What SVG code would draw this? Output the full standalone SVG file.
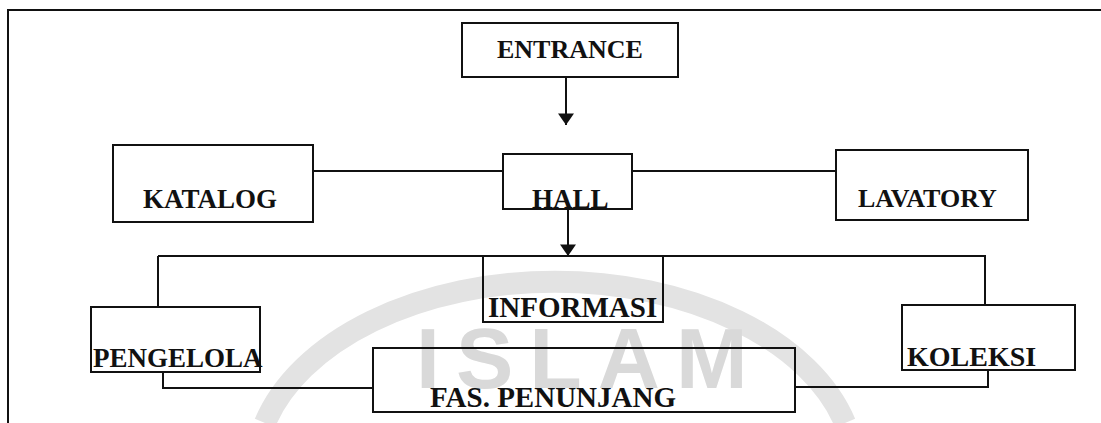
<svg xmlns="http://www.w3.org/2000/svg" width="1101" height="423" viewBox="0 0 1101 423">
  <style>
    .box { fill: none; stroke: #111; stroke-width: 2; }
    .lbl { font-family: "Liberation Serif", "Times New Roman", serif; font-weight: bold; fill: #111; }
    .ln { fill: none; stroke: #111; stroke-width: 2; }
    .wm { font-family: "Liberation Sans", Arial, sans-serif; font-weight: bold; fill: #d9d9d9; }
  </style>
  <defs>
    <marker id="arrow" markerUnits="userSpaceOnUse" markerWidth="12" markerHeight="16" refX="10" refY="7" orient="auto" viewBox="0 0 10 14">
      <path d="M0,0 L10,7 L0,14 Z" fill="#111"/>
    </marker>
  </defs>
  <rect width="1101" height="423" fill="#fff"/>

  <g id="watermark">
    <path d="M265,423 A300,190 0 0 1 845,423" fill="none" stroke="#e3e3e3" stroke-width="22"/>
    <text class="wm" x="416" y="388" font-size="86" letter-spacing="16">ISLAM</text>
  </g>

  <g id="frame">
    <path class="ln" d="M8,423 V10 H1101"/>
  </g>

  <g id="connectors">
    <line class="ln" x1="566" y1="77" x2="566" y2="125" marker-end="url(#arrow)"/>
    <line class="ln" x1="313" y1="171" x2="503" y2="171"/>
    <line class="ln" x1="632" y1="171" x2="836" y2="171"/>
    <line class="ln" x1="568" y1="209" x2="568" y2="256" marker-end="url(#arrow)"/>
    <line class="ln" x1="158" y1="256" x2="986" y2="256"/>
    <line class="ln" x1="158" y1="256" x2="158" y2="307"/>
    <line class="ln" x1="985" y1="256" x2="985" y2="305"/>
    <path class="ln" d="M163,372 V388 H373"/>
    <path class="ln" d="M988,370 V387 H795"/>
  </g>

  <g id="entrance">
    <rect class="box" x="462" y="23" width="216" height="54"/>
    <text class="lbl" x="497" y="58" font-size="26">ENTRANCE</text>
  </g>
  <g id="katalog">
    <rect class="box" x="113" y="145" width="200" height="77"/>
    <text class="lbl" x="143" y="208" font-size="27">KATALOG</text>
  </g>
  <g id="hall">
    <rect class="box" x="503" y="154" width="129" height="55"/>
    <text class="lbl" x="532" y="208" font-size="27">HALL</text>
  </g>
  <g id="lavatory">
    <rect class="box" x="836" y="150" width="192" height="70"/>
    <text class="lbl" x="858" y="207" font-size="26">LAVATORY</text>
  </g>
  <g id="pengelola">
    <rect class="box" x="91" y="307" width="169" height="65"/>
    <text class="lbl" x="93" y="367" font-size="27">PENGELOLA</text>
  </g>
  <g id="informasi">
    <rect class="box" x="483" y="256" width="180" height="66"/>
    <text class="lbl" x="488" y="317" font-size="29">INFORMASI</text>
  </g>
  <g id="koleksi">
    <rect class="box" x="902" y="305" width="173" height="65"/>
    <text class="lbl" x="907" y="366" font-size="28">KOLEKSI</text>
  </g>
  <g id="fas-penunjang">
    <rect class="box" x="373" y="348" width="422" height="64"/>
    <text class="lbl" x="430" y="407" font-size="29">FAS. PENUNJANG</text>
  </g>
</svg>
